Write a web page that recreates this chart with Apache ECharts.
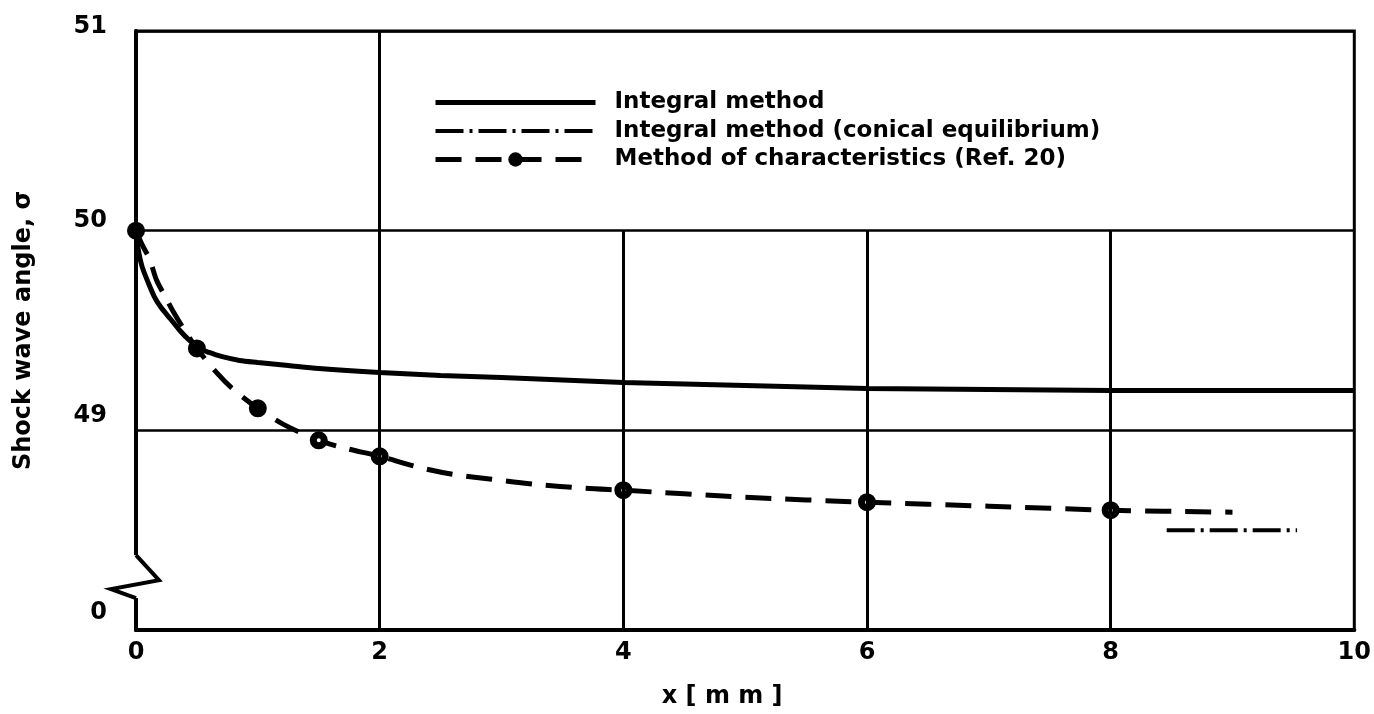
<!DOCTYPE html>
<html>
<head>
<meta charset="utf-8">
<script src="https://cdn.jsdelivr.net/npm/echarts@6/dist/echarts.min.js"></script>
<style>
html,body{margin:0;padding:0;background:#fff;}
#c{width:1374px;height:714px;}
</style>
</head>
<body>
<div id="c"></div>
<script>
// ---- data ----
const solidX = [0, 0.02, 0.05, 0.1, 0.15, 0.2, 0.28, 0.36, 0.44, 0.52, 0.6, 0.7, 0.85, 1.0, 1.25, 1.5, 2.0, 2.5, 3.0, 4.0, 5.0, 6.0, 7.0, 8.0, 9.0, 10.0];
const solidY = [50.0, 49.9, 49.82, 49.74, 49.67, 49.62, 49.56, 49.5, 49.45, 49.41, 49.39, 49.37, 49.35, 49.34, 49.325, 49.31, 49.29, 49.275, 49.265, 49.24, 49.225, 49.21, 49.205, 49.2, 49.2, 49.2];
const charX = [0, 0.05, 0.11, 0.17, 0.24, 0.31, 0.4, 0.5, 0.66, 0.79, 1.0, 1.21, 1.5, 1.72, 2.0, 2.32, 2.6, 2.92, 3.27, 3.69, 4.0, 5.0, 6.0, 7.0, 8.0, 9.0];
const charY = [50.0, 49.93, 49.86, 49.75, 49.67, 49.59, 49.5, 49.41, 49.29, 49.21, 49.11, 49.03, 48.95, 48.91, 48.87, 48.815, 48.78, 48.755, 48.73, 48.71, 48.70, 48.665, 48.64, 48.62, 48.60, 48.59];
const charMarkX = [0, 0.5, 1.0, 1.5, 2.0, 4.0, 6.0, 8.0];
const conicalX = [8.46, 9.53];
const conicalY = [48.5, 48.5];
const yTickLabels = {48: '0', 49: '49', 50: '50', 51: '51'};
const seriesNames = ['Integral method', 'Integral method (conical equilibrium)', 'Method of characteristics (Ref. 20)'];
const fullGridX = [2];
const partialGridX = [4, 6, 8];
const partialGridTop = 50;

const FONT = 'DejaVu Sans';
const chart = echarts.init(document.getElementById('c'), null, {renderer: 'canvas'});

const zip = (a, b) => a.map((v, i) => [v, b[i]]);
const charData = charX.map((x, i) => {
  const isMark = charMarkX.indexOf(x) >= 0;
  const filled = isMark && x <= 1.0;
  return {
    value: [x, charY[i]],
    symbol: isMark ? 'circle' : 'none',
    itemStyle: filled ? {color: '#000', borderColor: '#000', borderWidth: 7} : undefined
  };
});

const yMin = 48, yMax = 51;
const gridLines = [];
fullGridX.forEach(x => gridLines.push([{coord: [x, yMin]}, {coord: [x, yMax]}]));
partialGridX.forEach(x => gridLines.push([{coord: [x, yMin]}, {coord: [x, partialGridTop]}]));

const labelShift = {48: 34, 49: 30, 50: 20, 51: 8};
const SOLID = {color: '#000', width: 5, type: 'solid'};
const DASHDOT = {color: '#000', width: 4, type: [28, 6, 3, 6], cap: 'butt'};
const DASHED = {color: '#000', width: 5, type: [26, 14], cap: 'butt'};
const HIDDEN = {color: 'rgba(0,0,0,0)', borderColor: 'rgba(0,0,0,0)', borderWidth: 0};

chart.setOption({
  animation: false,
  backgroundColor: '#fff',
  grid: {left: 136, right: 18, top: 31, bottom: 83, show: true, borderColor: '#000', borderWidth: 3, backgroundColor: 'transparent'},
  legend: {
    left: 428, top: 86, orient: 'vertical',
    itemWidth: 160, itemHeight: 18, itemGap: 5.5,
    textStyle: {fontFamily: FONT, fontWeight: 'bold', fontSize: 23, color: '#000', lineHeight: 23, padding: [0, 0, 0, 14]},
    data: [
      {name: seriesNames[0], lineStyle: SOLID, itemStyle: HIDDEN},
      {name: seriesNames[1], lineStyle: DASHDOT, itemStyle: HIDDEN},
      {name: seriesNames[2], lineStyle: DASHED, itemStyle: {color: '#000', borderColor: '#000', borderWidth: 0}}
    ],
    selectedMode: false
  },
  xAxis: {
    type: 'value', min: 0, max: 10, interval: 2,
    name: 'x [ m m ]', nameLocation: 'middle', nameGap: 55,
    nameTextStyle: {fontFamily: FONT, fontWeight: 'bold', fontSize: 24, color: '#000', padding: [0, 46, 0, 0]},
    axisLine: {show: true, onZero: false, lineStyle: {color: '#000', width: 4}},
    axisTick: {show: false},
    splitLine: {show: false},
    axisLabel: {fontFamily: FONT, fontWeight: 'bold', fontSize: 24, color: '#000', margin: 11}
  },
  yAxis: {
    type: 'value', min: yMin, max: yMax, interval: 1,
    name: 'Shock wave angle, \u03c3', nameLocation: 'middle', nameGap: 100,
    nameTextStyle: {fontFamily: FONT, fontWeight: 'bold', fontSize: 24, color: '#000'},
    axisLine: {show: true, onZero: false, lineStyle: {color: '#000', width: 4}},
    axisTick: {show: false},
    splitLine: {show: true, lineStyle: {color: '#000', width: 2.5}},
    axisLabel: {
      margin: 29,
      formatter: v => '{s' + v + '|' + (yTickLabels[v] || '') + '}',
      rich: Object.fromEntries(Object.keys(labelShift).map(k => ['s' + k, {
        fontFamily: FONT, fontWeight: 'bold', fontSize: 24, color: '#000', padding: [0, 0, labelShift[k], 0]
      }]))
    }
  },
  series: [
    {
      name: seriesNames[0], type: 'line', data: zip(solidX, solidY), smooth: 0.3,
      symbol: 'none', lineStyle: SOLID, itemStyle: {color: '#000'}, z: 3,
      markLine: {silent: true, symbol: 'none', label: {show: false}, animation: false,
        lineStyle: {color: '#000', width: 3, type: 'solid'}, data: gridLines}
    },
    {
      name: seriesNames[1], type: 'line', data: zip(conicalX, conicalY),
      symbol: 'none', lineStyle: DASHDOT, itemStyle: {color: '#000'}, z: 3
    },
    {
      name: seriesNames[2], type: 'line', data: charData, smooth: 0.3,
      symbol: 'circle', symbolSize: 11, showAllSymbol: true,
      lineStyle: DASHED,
      itemStyle: {color: '#fff', borderColor: '#000', borderWidth: 7}, z: 4
    }
  ]
});

// axis break decoration at the bottom of the y axis
const p0 = chart.convertToPixel({gridIndex: 0}, [0, 48.375]);
const p1 = chart.convertToPixel({gridIndex: 0}, [0, 48.16]);
const ax = p0[0], yT = p0[1], yB = p1[1];
chart.setOption({
  graphic: [
    {type: 'rect', shape: {x: ax - 5, y: yT, width: 10, height: yB - yT}, style: {fill: '#fff'}, z: 100},
    {type: 'polyline', shape: {points: [[ax, yT], [ax + 23, yT + 25], [ax - 25, yT + 34], [ax, yB]]},
      style: {stroke: '#000', lineWidth: 4, fill: null, lineJoin: 'miter'}, z: 101}
  ]
});
</script>
</body>
</html>
